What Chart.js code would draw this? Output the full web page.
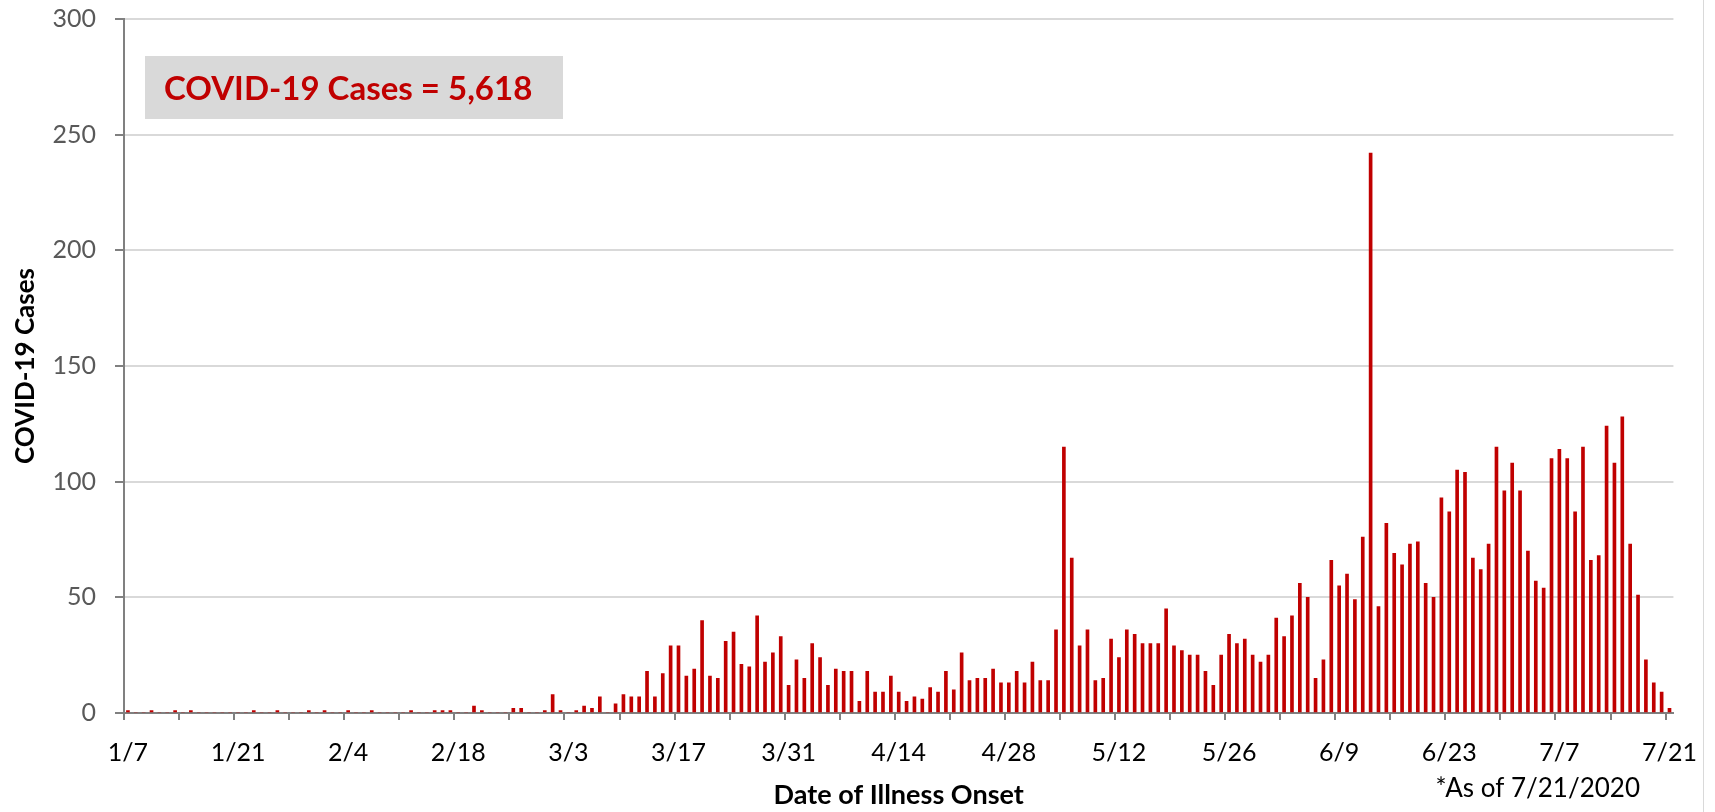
<!DOCTYPE html>
<html>
<head>
<meta charset="utf-8">
<title>COVID-19 Cases by Date of Illness Onset</title>
<script src="https://cdn.jsdelivr.net/npm/chart.js@4.4.0/dist/chart.umd.min.js"></script>
<style>
  body { margin: 0; background: #fff; }
  #graph { width: 1715px; height: 812px; }
</style>
</head>
<body>
<div id="graph"><canvas id="grafico" width="1715" height="812"></canvas></div>
<script>
// casos diarios por fecha de inicio de sintomas (1/7 a 7/21 de 2020)
var casosEnero = [1,0,0,1,0,0,1,0,1,0,0,0,0,0,0,0,1,0,0,1,0,0,0,1,0];
var casosFebrero = [1,0,0,1,0,0,1,0,0,0,0,1,0,0,1,1,1,0,0,3,1,0,0,0,2,2,0,0,1];
var casosMarzo = [8,1,0,1,3,2,7,0,4,8,7,7,18,7,17,29,29,16,19,40,16,15,31,35,21,20,42,22,26,33,12];
var casosAbril = [23,15,30,24,12,19,18,18,5,18,9,9,16,9,5,7,6,11,9,18,10,26,14,15,15,19,13,13,18,13];
var casosMayo = [22,14,14,36,115,67,29,36,14,15,32,24,36,34,30,30,30,45,29,27,25,25,18,12,25,34,30,32,25,22,25];
var casosJunio = [41,33,42,56,50,15,23,66,55,60,49,76,242,46,82,69,64,73,74,56,50,93,87,105,104,67,62,73,115,96];
var casosJulio = [108,96,70,57,54,110,114,110,87,115,66,68,124,108,128,73,51,23,13,9,2];

var etiquetasEje = ['1/7','1/21','2/4','2/18','3/3','3/17','3/31','4/14','4/28','5/12','5/26','6/9','6/23','7/7','7/21'];
var textoTotal = 'COVID-19 Cases = 5,618';
var textoNota = '*As of 7/21/2020';

var casos = [].concat(casosEnero, casosFebrero, casosMarzo, casosAbril, casosMayo, casosJunio, casosJulio);

var fechas = [];
for (var i = 0; i < casos.length; i++) {
  var f = new Date(2020, 0, 7 + i);
  fechas.push((f.getMonth() + 1) + '/' + f.getDate());
}

var rojo = '#c00000';
var grisEje = '#808080';

var anotaciones = {
  id: 'anotaciones',
  afterDraw: function(chart) {
    var ctx = chart.ctx;
    var area = chart.chartArea;
    ctx.save();
    // caja con el total
    ctx.fillStyle = '#d9d9d9';
    ctx.fillRect(area.left + 21, area.top + 37, 418, 63);
    ctx.fillStyle = rojo;
    ctx.font = 'bold 33px Lato';
    ctx.textBaseline = 'alphabetic';
    ctx.textAlign = 'left';
    ctx.fillText(textoTotal, area.left + 40, area.top + 81);
    // nota al pie
    ctx.fillStyle = '#000';
    ctx.font = '26px Lato';
    ctx.textAlign = 'right';
    ctx.fillText(textoNota, 1640, 797);
    // borde derecho
    ctx.strokeStyle = '#d9d9d9';
    ctx.lineWidth = 1;
    ctx.beginPath();
    ctx.moveTo(1703.5, 0);
    ctx.lineTo(1703.5, chart.height);
    ctx.stroke();
    ctx.restore();
  }
};

Chart.defaults.font.family = 'Lato';

var contexto = document.getElementById('grafico').getContext('2d');
var chart = new Chart(contexto, {
  type: 'bar',
  data: {
    labels: fechas,
    datasets: [{
      label: 'COVID-19 Cases',
      data: casos,
      backgroundColor: rojo,
      borderWidth: 0,
      barThickness: 3
    }]
  },
  options: {
    responsive: false,
    animation: false,
    layout: { padding: { top: 19, right: 41, bottom: 0, left: 0 } },
    plugins: {
      legend: { display: false },
      tooltip: { enabled: false }
    },
    scales: {
      x: {
        offset: true,
        grid: {
          offset: true,
          drawOnChartArea: false,
          drawTicks: true,
          tickLength: 7,
          lineWidth: 2,
          tickColor: function(c) { return c.index % 7 === 0 ? grisEje : 'rgba(0,0,0,0)'; }
        },
        border: { color: grisEje, width: 2 },
        ticks: {
          autoSkip: false,
          maxRotation: 0,
          minRotation: 0,
          padding: 18,
          color: '#000',
          font: { size: 25 },
          callback: function(v, i) { return i % 14 === 0 ? etiquetasEje[i / 14] : ''; }
        },
        title: {
          display: true,
          text: 'Date of Illness Onset',
          color: '#000',
          font: { size: 27, weight: 'bold' },
          padding: { top: 0, bottom: 1 }
        },
        afterFit: function(scale) { scale.height = 99; }
      },
      y: {
        min: 0,
        max: 300,
        ticks: { stepSize: 50, padding: 19, color: '#595959', font: { size: 25 } },
        grid: { color: '#d9d9d9', lineWidth: 2, tickColor: grisEje, tickLength: 9 },
        border: { color: grisEje, width: 2 },
        title: {
          display: true,
          text: 'COVID-19 Cases',
          color: '#000',
          font: { size: 26, weight: 'bold' },
          padding: { top: 10, bottom: 0 }
        },
        afterFit: function(scale) {
          scale.width = 124;
          scale.paddingTop = 0;
          scale.paddingBottom = 0;
        }
      }
    }
  },
  plugins: [anotaciones]
});
</script>
</body>
</html>
